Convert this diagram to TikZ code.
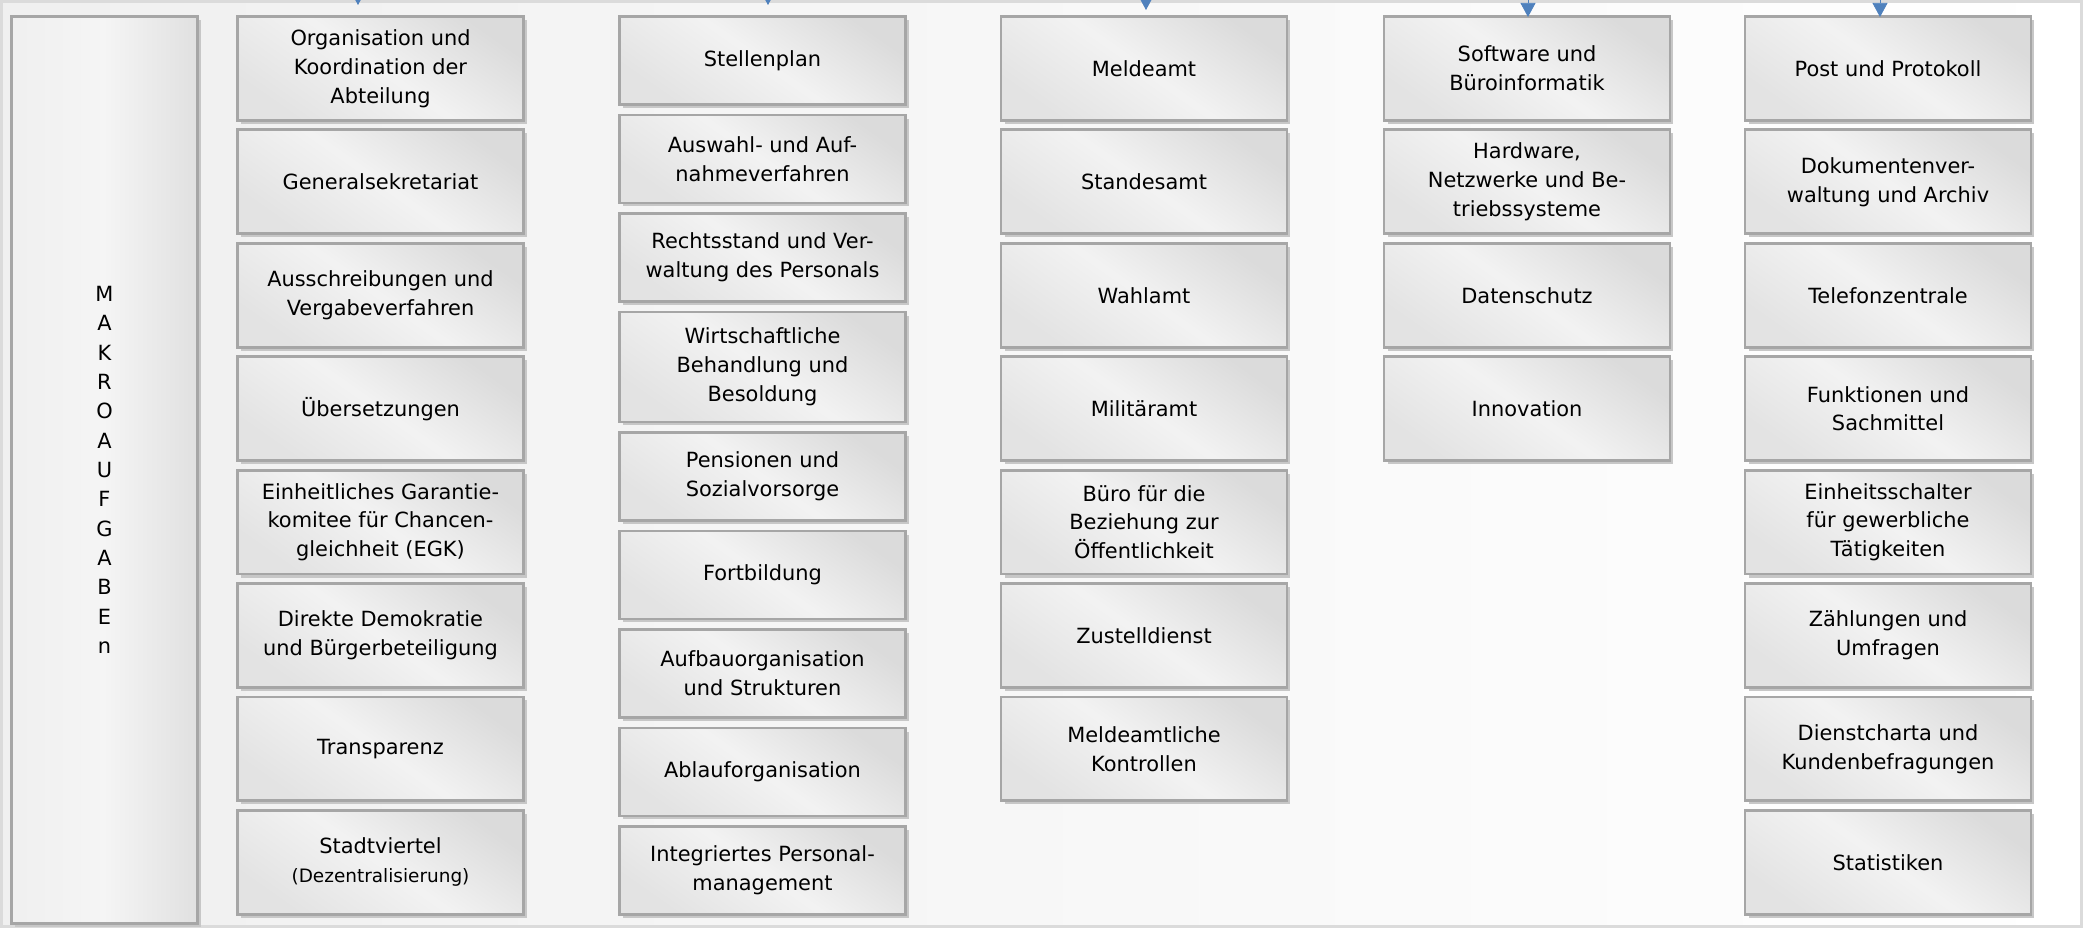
\documentclass[tikz,border=0pt]{standalone}
\usepackage{fontspec}
\setmainfont{DejaVu Sans}
\usepackage{xcolor}
\usepackage{tikz}
\usetikzlibrary{shadows}
\usetikzlibrary{positioning}
\usetikzlibrary{arrows.meta}
\definecolor{arrowblue}{RGB}{79,129,189}
\tikzstyle{task}=[rectangle,draw=black!35,line width=1.6pt,top color=black!14,bottom color=black!11,middle color=black!5,shading angle=-35,drop shadow={shadow xshift=0.07cm,shadow yshift=-0.07cm,fill=black!22,opacity=1},align=center,inner sep=2pt,font=\fontsize{11.9}{16.4}\selectfont]
\tikzstyle{bigtask}=[task,minimum width=5.72cm,minimum height=2.08cm]
\tikzstyle{smalltask}=[task,minimum width=5.72cm,minimum height=1.76cm]
\tikzstyle{talltask}=[task,minimum width=5.72cm,minimum height=2.20cm]
\tikzstyle{macro}=[rectangle,draw=black!35,line width=1.6pt,left color=black!6,right color=black!12,middle color=black!4,drop shadow={shadow xshift=0.07cm,shadow yshift=-0.07cm,fill=black!22,opacity=1},minimum width=3.72cm,minimum height=18.14cm,align=center,font=\fontsize{11.9}{16.7}\selectfont]
\tikzstyle{feed}=[draw=arrowblue,thin,-{Triangle[width=0.3cm,length=0.28cm]}]

\begin{document}
\begin{tikzpicture}[x=0.02cm,y=-0.02cm]

  \def\dy{70};
  \def\u{113.4};

  \useasboundingbox (0,0) rectangle (2083,928);
  \shade[left color=black!6,right color=white] (0,0) rectangle (2083,928);
  \draw[black!14,line width=0.06cm] (1.5,1.5) rectangle (2081.5,926.5);

  \node[macro] (makro) at (104.5,470) {M\\A\\K\\R\\O\\A\\U\\F\\G\\A\\B\\E\\n};

  % erste Spalte
  \foreach \r/\name/\label in {0/a1/{Organisation und\\Koordination der\\Abteilung}, 1/a2/Generalsekretariat,
      2/a3/{Ausschreibungen und\\Vergabeverfahren}, 3/a4/Übersetzungen,
      4/a5/{Einheitliches Garantie-\\komitee für Chancen-\\gleichheit (EGK)},
      5/a6/{Direkte Demokratie\\und Bürgerbeteiligung}, 6/a7/Transparenz,
      7/a8/{Stadtviertel\\{\fontsize{10.5}{16.4}\selectfont(Dezentralisierung)}}}
          \node[bigtask] (\name) at (380.5, \r*\u+\dy-1.5) {\label};

  % zweite Spalte
  \foreach \y/\name/\label in {60.5/b1/Stellenplan, 159/b2/{Auswahl- und Auf-\\nahmeverfahren},
      257.5/b3/{Rechtsstand und Ver-\\waltung des Personals}, 476.5/b5/{Pensionen und\\Sozialvorsorge},
      575/b6/Fortbildung, 673.5/b7/{Aufbauorganisation\\und Strukturen}, 772/b8/Ablauforganisation,
      870.5/b9/{Integriertes Personal-\\management}}
          \node[smalltask] (\name) at (762.5, \y) {\label};
  \node[talltask] (b4) at (762.5, 367) {Wirtschaftliche\\Behandlung und\\Besoldung};

  % dritte Spalte
  \foreach \r/\name/\label in {0/c1/Meldeamt, 1/c2/Standesamt, 2/c3/Wahlamt, 3/c4/Militäramt,
      4/c5/{Büro für die\\Beziehung zur\\Öffentlichkeit}, 5/c6/Zustelldienst, 6/c7/{Meldeamtliche\\Kontrollen}}
          \node[bigtask] (\name) at (1144, \r*\u+\dy-1.5) {\label};

  % vierte Spalte
  \foreach \r/\name/\label in {0/d1/{Software und\\Büroinformatik}, 1/d2/{Hardware,\\Netzwerke und Be-\\triebssysteme},
      2/d3/Datenschutz, 3/d4/Innovation}
          \node[bigtask] (\name) at (1527, \r*\u+\dy-1.5) {\label};

  % fuenfte Spalte
  \foreach \r/\name/\label in {0/e1/Post und Protokoll, 1/e2/{Dokumentenver-\\waltung und Archiv},
      2/e3/Telefonzentrale, 3/e4/{Funktionen und\\Sachmittel}, 4/e5/{Einheitsschalter\\für gewerbliche\\Tätigkeiten},
      5/e6/{Zählungen und\\Umfragen}, 6/e7/{Dienstcharta und\\Kundenbefragungen}, 7/e8/Statistiken}
          \node[bigtask] (\name) at (1888, \r*\u+\dy-1.5) {\label};

  \begin{scope}
    \clip (0,0) rectangle (2083,928);
    \foreach \x/\name/\tip in {358/in1/5, 768/in2/5, 1146/in3/10, 1528/in4/17, 1880/in5/17} {
          \coordinate (\name) at (\x,-40);
          \coordinate (\name tip) at (\x,\tip);
          \draw[feed] (\name) -- (\name tip);
    }
  \end{scope}

\end{tikzpicture}
\end{document}
